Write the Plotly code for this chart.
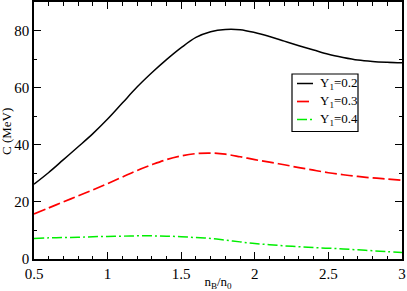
import plotly.graph_objects as go

nB = [0.5, 0.6, 0.7, 0.8, 0.9, 1.0, 1.1, 1.2, 1.3, 1.4, 1.5, 1.6, 1.7,
      1.8, 1.9, 2.0, 2.1, 2.2, 2.3, 2.4, 2.5, 2.6, 2.7, 2.8, 2.9, 3.0]
c_y02 = [26.2, 30.3, 34.8, 39.3, 43.9, 49.0, 54.6, 60.2, 65.2, 69.8, 74.0, 77.6, 79.6,
         80.4, 80.3, 79.3, 77.9, 76.3, 74.7, 73.2, 71.7, 70.6, 69.7, 69.2, 68.9, 68.7]
c_y03 = [15.8, 17.9, 20.0, 22.1, 24.2, 26.4, 28.7, 31.0, 33.0, 34.8, 36.1, 36.9, 37.1,
         36.7, 35.8, 34.8, 33.9, 33.0, 32.0, 31.1, 30.2, 29.5, 28.9, 28.4, 28.0, 27.6]
c_y04 = [7.2, 7.4, 7.5, 7.6, 7.8, 7.9, 8.0, 8.1, 8.1, 8.0, 7.8, 7.5, 7.2,
         6.6, 6.0, 5.4, 5.0, 4.6, 4.3, 4.0, 3.8, 3.5, 3.2, 2.9, 2.6, 2.3]
names = ["Y<sub>1</sub>=0.2", "Y<sub>1</sub>=0.3", "Y<sub>1</sub>=0.4"]
x_ticks = [0.5, 1, 1.5, 2, 2.5, 3]
x_ticktext = ["0.5", "1", "1.5", "2", "2.5", "3"]
y_ticks = [0, 20, 40, 60, 80]
x_title = "n<sub>B</sub>/n<sub>0</sub>"
y_title = "C (MeV)"

FONT = "Liberation Serif, Times New Roman, Times, serif"
colors = ["black", "#ff0000", "#00ee00"]
dashes = ["solid", "12px,4px", "10px,3px,2px,3px"]
widths = [1.5, 1.7, 1.5]

fig = go.Figure()
for yv, nm, col, ds, w in zip([c_y02, c_y03, c_y04], names, colors, dashes, widths):
    fig.add_trace(go.Scatter(x=nB, y=yv, mode="lines", name=nm, showlegend=False,
                             line=dict(color=col, width=w, shape="spline", dash=ds)))

axis_common = dict(showline=True, linecolor="black", linewidth=1.5, mirror=True,
                   ticks="inside", tickcolor="black", tickwidth=1.2, ticklen=7,
                   showgrid=False, zeroline=False, automargin=False,
                   tickfont=dict(family=FONT, size=15, color="black"))

fig.update_layout(
    xaxis=dict(range=[0.5, 3.0], tickvals=x_ticks, ticktext=x_ticktext,
               minor=dict(ticks="inside", dtick=0.1, ticklen=3.5, tickcolor="black", tickwidth=1),
               title=dict(text=x_title, font=dict(family=FONT, size=13, color="black"),
                          standoff=0),
               **axis_common),
    yaxis=dict(range=[0, 90], tickvals=y_ticks,
               minor=dict(ticks="inside", dtick=10, ticklen=3.5, tickcolor="black", tickwidth=1),
               **axis_common),
    xaxis2=dict(overlaying="x", side="top", matches="x", range=[0.5, 3.0], tickvals=x_ticks,
                showticklabels=False, ticks="inside", tickcolor="black", tickwidth=1.2, ticklen=7,
                minor=dict(ticks="inside", dtick=0.1, ticklen=3.5, tickcolor="black", tickwidth=1),
                showgrid=False, zeroline=False, showline=False, automargin=False),
    yaxis2=dict(overlaying="y", side="right", matches="y", range=[0, 90], tickvals=y_ticks,
                showticklabels=False, ticks="inside", tickcolor="black", tickwidth=1.2, ticklen=7,
                minor=dict(ticks="inside", dtick=10, ticklen=3.5, tickcolor="black", tickwidth=1),
                showgrid=False, zeroline=False, showline=False, automargin=False),
)
# invisible helper trace so the mirrored tick axes are drawn
fig.add_trace(go.Scatter(x=[nB[0]], y=[c_y04[0]], xaxis="x2", yaxis="y2", mode="markers",
                         marker=dict(opacity=0), showlegend=False, hoverinfo="skip"))

L, R, B, T = 34, 5, 32, 2
W, H = 407 - L - R, 291 - T - B
def px(xp):
    return (xp - L) / W
def py(yp):
    return (291 - B - yp) / H

# y-axis title at the left edge as in the reference
fig.add_annotation(xref="paper", yref="paper", x=px(6), y=py(132), text=y_title,
                   textangle=-90, showarrow=False, xanchor="center", yanchor="middle",
                   font=dict(family=FONT, size=13, color="black"))

# hand-built legend box (paper coordinates)
fig.add_shape(type="rect", xref="paper", yref="paper",
              x0=px(292), x1=px(358), y0=py(131.5), y1=py(74),
              line=dict(color="black", width=1.2), fillcolor="white", layer="above")
rows = [83.5, 101.5, 119.5]
for nm, col, ds, w, ry in zip(names, colors, dashes, widths, rows):
    fig.add_shape(type="line", xref="paper", yref="paper",
                  x0=px(297), x1=px(313), y0=py(ry), y1=py(ry),
                  line=dict(color=col, width=w, dash=ds), layer="above")
    fig.add_annotation(xref="paper", yref="paper", x=px(318), y=py(ry),
                       xanchor="left", yanchor="middle", text=nm, showarrow=False,
                       font=dict(family=FONT, size=13, color="black"))

fig.update_layout(
    width=407, height=291,
    margin=dict(l=L, r=R, t=T, b=B),
    paper_bgcolor="white", plot_bgcolor="white",
    showlegend=False,
)

fig.write_html("out.html", config={"displayModeBar": False},
               post_script="document.body.style.margin='0';document.body.style.overflow='hidden';")
